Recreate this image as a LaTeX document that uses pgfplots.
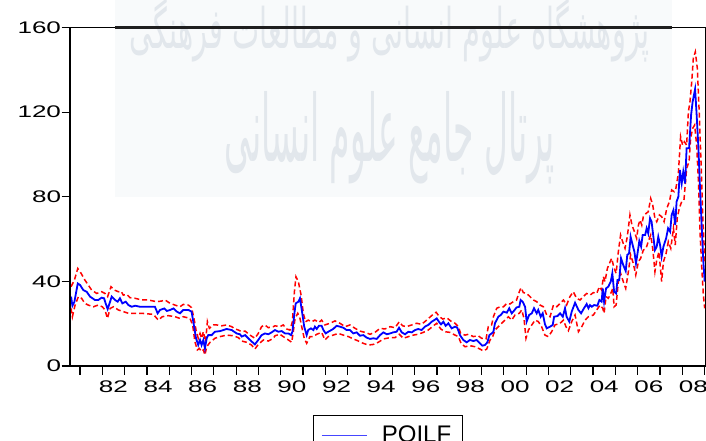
\documentclass[border=0pt]{standalone}
\usepackage{pgfplots}
\pgfplotsset{compat=1.18}
\usepackage{pgfplotstable}
\usepackage{graphicx}
\usepackage{fontspec}
\setmainfont{Liberation Sans}
\newfontfamily\persianfont[Script=Arabic]{DejaVu Sans}
\TeXXeTstate=1
\definecolor{eblue}{RGB}{0,0,255}
\definecolor{legblue}{RGB}{70,70,255}
\definecolor{ered}{RGB}{255,0,0}
\definecolor{wmbg}{RGB}{248,250,251}
\definecolor{wmtext}{RGB}{226,231,236}
\newcommand{\tl}[1]{\scalebox{1.55}[1]{#1}}

\pgfplotstableread{
x y
1980.60 32.8
1980.66 28.5
1980.75 30.4
1980.90 39.0
1981.00 38.3
1981.15 35.9
1981.30 35.1
1981.45 32.8
1981.67 31.2
1981.82 31.2
1981.97 32.3
1982.08 32.0
1982.15 29.6
1982.24 26.9
1982.35 30.4
1982.42 32.8
1982.57 31.2
1982.69 30.4
1982.79 32.0
1982.90 29.6
1983.05 30.4
1983.17 28.8
1983.32 28.0
1983.47 28.5
1983.69 28.0
1983.99 28.0
1984.36 28.0
1984.48 24.9
1984.59 26.5
1984.78 27.2
1984.89 26.0
1985.04 26.5
1985.19 27.2
1985.34 25.7
1985.48 24.9
1985.63 26.5
1985.86 26.5
1986.00 25.7
1986.08 20.9
1986.20 13.1
1986.30 9.9
1986.38 12.3
1986.45 9.9
1986.53 12.3
1986.60 8.3
1986.68 13.1
1986.75 14.6
1986.90 14.6
1987.05 16.2
1987.28 16.5
1987.57 17.5
1987.80 17.0
1988.02 15.4
1988.17 15.0
1988.25 13.9
1988.40 14.6
1988.62 12.3
1988.84 10.2
1988.99 12.3
1989.14 14.6
1989.29 15.4
1989.44 15.0
1989.59 15.9
1989.74 17.0
1989.89 16.2
1990.04 16.5
1990.19 15.4
1990.34 15.4
1990.46 14.6
1990.52 16.2
1990.61 24.9
1990.67 29.6
1990.79 30.4
1990.86 32.0
1990.94 26.5
1991.05 18.6
1991.16 14.6
1991.23 17.0
1991.35 17.8
1991.46 17.0
1991.53 18.6
1991.61 17.5
1991.71 19.0
1991.83 19.0
1991.91 17.0
1992.01 15.4
1992.13 16.2
1992.35 17.5
1992.50 19.0
1992.65 18.6
1992.80 18.1
1992.95 17.0
1993.10 17.0
1993.25 15.4
1993.40 15.9
1993.55 14.3
1993.70 14.6
1993.85 13.4
1994.00 12.8
1994.15 13.1
1994.30 12.8
1994.45 14.6
1994.60 15.9
1994.75 15.0
1994.90 15.4
1995.04 15.9
1995.19 16.2
1995.30 18.1
1995.42 15.9
1995.57 15.0
1995.72 16.2
1995.87 15.9
1996.02 17.0
1996.16 17.5
1996.31 17.0
1996.46 18.6
1996.61 19.4
1996.76 20.9
1996.88 21.7
1996.99 22.5
1997.09 20.9
1997.18 19.7
1997.29 20.9
1997.39 19.0
1997.51 20.2
1997.66 17.8
1997.81 18.6
1997.91 18.1
1998.03 14.6
1998.18 12.3
1998.33 11.2
1998.48 12.3
1998.63 11.8
1998.78 12.3
1998.93 10.7
1999.03 9.6
1999.15 9.9
1999.26 11.2
1999.35 14.6
1999.45 15.4
1999.53 16.2
1999.60 20.2
1999.75 23.3
1999.86 24.1
1999.98 25.7
2000.13 25.2
2000.24 27.3
2000.35 24.9
2000.42 25.7
2000.57 27.7
2000.69 28.0
2000.75 31.2
2000.84 30.4
2000.95 28.0
2001.02 21.0
2001.13 24.1
2001.25 24.9
2001.35 27.3
2001.47 24.9
2001.54 26.5
2001.65 23.3
2001.74 24.9
2001.84 19.8
2001.92 17.8
2002.07 18.6
2002.19 19.4
2002.25 23.3
2002.40 23.6
2002.52 24.9
2002.64 23.3
2002.74 27.3
2002.81 23.3
2002.93 21.0
2003.04 25.7
2003.19 29.9
2003.34 26.5
2003.46 24.9
2003.59 27.3
2003.71 29.3
2003.79 27.3
2003.86 28.8
2003.94 28.0
2004.04 28.8
2004.19 28.5
2004.28 31.2
2004.38 30.4
2004.43 36.7
2004.49 30.4
2004.58 36.7
2004.68 37.5
2004.79 39.9
2004.86 43.8
2004.94 35.1
2005.03 34.3
2005.09 40.6
2005.17 40.6
2005.25 50.9
2005.35 47.7
2005.46 44.9
2005.53 52.5
2005.61 53.2
2005.68 61.1
2005.77 57.2
2005.85 54.0
2005.92 48.5
2006.00 54.0
2006.07 59.1
2006.15 56.4
2006.22 61.9
2006.33 61.9
2006.40 65.1
2006.47 62.7
2006.55 69.8
2006.62 68.2
2006.70 61.1
2006.77 54.8
2006.85 56.4
2006.92 61.1
2007.00 57.2
2007.07 51.7
2007.15 56.4
2007.27 60.3
2007.36 65.1
2007.45 63.5
2007.52 71.4
2007.60 73.7
2007.68 66.6
2007.74 77.7
2007.82 80.0
2007.89 92.6
2007.97 86.3
2008.04 91.8
2008.12 86.3
2008.19 102.9
2008.30 102.9
2008.39 118.6
2008.46 124.9
2008.57 130.9
2008.64 118.6
2008.72 102.9
2008.79 84.0
2008.87 65.1
2008.94 49.3
2009.00 39.9
}\poilfdata

\pgfplotstableread{
x y
1980.60 37.5
1980.75 40.6
1980.90 46.1
1981.05 43.8
1981.22 40.6
1981.37 38.3
1981.52 35.9
1981.75 34.3
1981.97 35.1
1982.12 34.3
1982.24 32.8
1982.39 37.5
1982.54 35.9
1982.72 35.1
1982.84 35.4
1982.94 33.5
1983.09 33.9
1983.24 32.3
1983.47 32.0
1983.77 31.2
1984.06 31.2
1984.44 30.4
1984.66 30.7
1984.81 31.2
1985.04 29.6
1985.26 28.8
1985.48 28.0
1985.63 29.1
1985.86 28.8
1986.00 27.6
1986.11 22.5
1986.20 17.0
1986.30 13.1
1986.38 15.4
1986.45 13.1
1986.53 16.2
1986.63 11.5
1986.71 21.0
1986.80 17.8
1986.98 19.4
1987.13 19.4
1987.35 19.0
1987.57 19.4
1987.80 18.6
1987.95 17.5
1988.10 17.0
1988.25 16.2
1988.40 16.5
1988.62 14.6
1988.84 13.1
1988.99 15.4
1989.14 18.6
1989.29 19.4
1989.44 18.1
1989.67 18.6
1989.74 19.0
1989.96 18.6
1990.11 19.4
1990.26 17.5
1990.41 17.0
1990.52 20.9
1990.61 35.1
1990.68 42.2
1990.79 39.8
1990.91 33.5
1991.01 24.9
1991.11 20.9
1991.23 21.7
1991.38 20.9
1991.53 21.7
1991.71 20.6
1991.83 21.7
1991.98 19.4
1992.21 20.2
1992.43 21.3
1992.65 20.2
1992.88 18.6
1993.10 19.4
1993.33 17.8
1993.55 16.5
1993.77 15.9
1994.00 15.0
1994.22 15.9
1994.45 17.8
1994.67 17.5
1994.90 18.6
1995.12 18.1
1995.31 20.9
1995.46 19.0
1995.64 18.6
1995.87 19.4
1996.09 20.2
1996.31 19.7
1996.54 21.7
1996.76 23.8
1996.96 25.4
1997.11 23.3
1997.26 22.2
1997.44 22.8
1997.66 20.9
1997.81 20.2
1997.96 18.6
1998.06 15.4
1998.26 14.6
1998.41 15.0
1998.63 13.9
1998.85 14.3
1999.00 13.1
1999.20 12.8
1999.30 18.6
1999.45 19.4
1999.53 23.3
1999.68 27.3
1999.83 28.0
1999.98 28.0
2000.13 29.6
2000.27 29.3
2000.42 30.4
2000.57 31.2
2000.69 35.1
2000.77 37.0
2000.87 34.7
2001.02 34.3
2001.17 32.8
2001.32 31.2
2001.47 30.4
2001.62 28.8
2001.77 28.0
2001.92 24.1
2002.07 23.3
2002.22 28.8
2002.37 28.0
2002.52 29.6
2002.67 31.2
2002.81 28.8
2002.96 32.8
2003.11 35.1
2003.26 32.0
2003.41 31.2
2003.56 32.8
2003.71 34.3
2003.86 33.5
2004.01 34.7
2004.16 34.3
2004.28 37.5
2004.38 35.9
2004.46 42.2
2004.53 39.9
2004.64 46.2
2004.73 48.5
2004.83 50.9
2004.94 46.2
2005.03 43.8
2005.13 54.0
2005.23 61.9
2005.32 58.8
2005.43 55.6
2005.53 61.1
2005.65 71.4
2005.74 66.6
2005.85 63.5
2005.95 60.3
2006.03 66.6
2006.10 69.0
2006.18 66.6
2006.25 70.6
2006.37 72.1
2006.47 72.9
2006.58 79.2
2006.67 76.1
2006.77 69.8
2006.85 68.2
2006.97 71.4
2007.07 70.6
2007.18 68.2
2007.30 74.5
2007.42 77.7
2007.52 83.2
2007.63 82.4
2007.71 84.0
2007.82 91.0
2007.92 108.4
2008.01 104.4
2008.09 106.0
2008.19 104.4
2008.27 120.2
2008.34 124.9
2008.42 134.4
2008.49 145.4
2008.58 148.5
2008.67 140.7
2008.76 118.6
2008.84 95.0
2008.91 71.4
2008.98 55.6
2009.00 49.3
}\upperdata

\pgfplotstableread{
x y
1980.60 27.2
1980.66 23.3
1980.78 28.8
1980.93 32.8
1981.07 32.0
1981.22 29.6
1981.37 28.8
1981.60 28.0
1981.82 28.8
1982.00 28.0
1982.12 26.5
1982.23 22.5
1982.35 27.2
1982.50 28.0
1982.72 26.5
1982.94 25.7
1983.17 24.9
1983.39 24.9
1983.77 24.9
1984.29 24.4
1984.51 21.7
1984.69 23.3
1984.96 23.8
1985.26 23.3
1985.48 22.5
1985.63 23.3
1985.93 22.5
1986.05 19.4
1986.15 11.5
1986.26 7.6
1986.35 8.3
1986.45 6.8
1986.53 7.6
1986.60 5.2
1986.68 9.1
1986.83 11.2
1987.05 13.1
1987.28 13.9
1987.57 14.6
1987.87 14.3
1988.10 13.4
1988.25 11.8
1988.47 11.2
1988.69 9.9
1988.84 8.0
1988.99 10.2
1989.22 12.3
1989.44 11.8
1989.67 13.1
1989.74 14.3
1989.96 15.0
1990.11 13.9
1990.34 12.3
1990.49 11.2
1990.56 16.2
1990.64 22.5
1990.76 24.9
1990.86 22.5
1990.97 17.0
1991.05 13.1
1991.16 10.7
1991.31 13.9
1991.46 13.9
1991.61 15.0
1991.83 15.9
1991.98 12.3
1992.13 13.9
1992.35 14.6
1992.58 15.4
1992.80 14.6
1993.03 13.9
1993.25 12.8
1993.48 11.8
1993.70 10.7
1993.92 9.9
1994.15 10.2
1994.37 11.2
1994.60 12.8
1994.90 13.4
1995.12 13.4
1995.31 15.0
1995.49 13.1
1995.72 13.9
1995.94 14.6
1996.16 15.0
1996.39 15.9
1996.61 17.0
1996.84 19.0
1996.99 20.2
1997.17 17.5
1997.36 16.2
1997.58 15.9
1997.81 14.6
1997.96 13.9
1998.08 10.7
1998.26 9.1
1998.48 9.6
1998.71 9.1
1998.93 8.0
1999.08 7.1
1999.23 8.0
1999.38 12.3
1999.50 13.9
1999.60 17.0
1999.75 18.6
1999.90 20.2
2000.05 21.7
2000.20 23.3
2000.35 21.7
2000.50 24.1
2000.69 24.9
2000.80 26.5
2000.90 22.5
2000.99 13.1
2001.10 17.0
2001.25 19.4
2001.40 21.7
2001.54 21.0
2001.69 18.6
2001.84 14.6
2001.99 13.9
2002.14 16.2
2002.29 19.4
2002.52 20.2
2002.67 21.7
2002.78 18.6
2002.89 16.7
2003.04 21.0
2003.19 24.1
2003.34 16.2
2003.49 18.6
2003.64 21.7
2003.79 23.3
2004.01 24.1
2004.16 26.5
2004.31 28.8
2004.43 27.3
2004.49 24.9
2004.58 32.8
2004.68 32.0
2004.79 34.3
2004.88 36.7
2004.94 28.0
2005.03 28.8
2005.13 39.9
2005.23 43.8
2005.35 39.9
2005.46 36.7
2005.58 44.6
2005.68 52.5
2005.80 48.5
2005.91 43.0
2006.03 49.3
2006.13 50.9
2006.25 54.8
2006.37 55.6
2006.47 58.8
2006.58 61.9
2006.67 55.6
2006.77 44.6
2006.85 50.1
2006.95 54.0
2007.07 39.9
2007.15 49.3
2007.27 53.2
2007.37 58.8
2007.48 55.6
2007.60 65.1
2007.68 57.2
2007.77 69.8
2007.86 74.5
2007.97 77.7
2008.07 78.4
2008.19 93.4
2008.30 96.6
2008.37 107.6
2008.46 112.3
2008.55 113.9
2008.64 104.4
2008.72 87.1
2008.79 63.5
2008.87 46.2
2008.94 33.6
2009.00 27.3
}\lowerdata

\begin{document}
\begin{tikzpicture}
\fill[wmbg] (45bp,169bp) rectangle (602bp,366bp);
\node[wmtext, inner sep=0pt] at (320bp,336bp) {\resizebox{520bp}{50bp}{\persianfont\beginR پژوهشگاه علوم انسانی و مطالعات فرهنگی\endR}};
\node[wmtext, inner sep=0pt] at (320bp,228bp) {\resizebox{330bp}{70bp}{\persianfont\beginR پرتال جامع علوم انسانی\endR}};
\begin{axis}[
  at={(0,0)}, anchor=south west,
  scale only axis, width=635bp, height=338.5bp,
  xmin=1980.552, xmax=2009.014, ymin=0, ymax=160,
  axis line style={line width=1bp, black},
  tick pos=left, tick align=outside, major tick length=8.5bp,
  every tick/.style={black, line width=1.2bp},
  xtick={1981,...,2009},
  xticklabels={{},\tl{82},{},\tl{84},{},\tl{86},{},\tl{88},{},\tl{90},{},\tl{92},{},\tl{94},{},\tl{96},{},\tl{98},{},\tl{00},{},\tl{02},{},\tl{04},{},\tl{06},{},\tl{08},{}},
  xticklabel style={xshift=11.15bp, yshift=-3bp},
  ytick={0,40,80,120,160},
  yticklabels={\tl{0},\tl{40},\tl{80},\tl{120},\tl{160}},
  yticklabel style={xshift=3bp},
  tick label style={font=\fontsize{16.8bp}{20bp}\selectfont, text=black},
  legend style={at={(0.501,0)}, anchor=north, yshift=-49bp, draw=black, line width=0.8bp, fill=white,
    inner xsep=5bp, inner ysep=5bp, column sep=0pt,
    nodes={inner xsep=6.2bp, inner ysep=5.7bp, font=\fontsize{24bp}{28bp}\selectfont}},
  legend image code/.code={\draw[#1, draw=legblue, line width=1bp] (2bp,0bp) -- (47.6bp,0bp); \path (0bp,-7.2bp) (55bp,0bp);},
]
\addplot[ered, line width=1.5bp, dash pattern=on 5bp off 3bp, forget plot] table[x=x,y=y] {\upperdata};
\addplot[ered, line width=1.5bp, dash pattern=on 5bp off 3bp, forget plot] table[x=x,y=y] {\lowerdata};
\addplot[eblue, line width=1.8bp] table[x=x,y=y] {\poilfdata};
\addlegendentry{POILF\hspace{4bp}}
\end{axis}
\draw[line width=3bp, black!88] (45bp,338.5bp) -- (602bp,338.5bp);
\draw[line width=2bp] (0bp,338.5bp) -- (0bp,0bp) -- (635bp,0bp);
\pgfresetboundingbox
\useasboundingbox (-70bp,-75bp) rectangle (636bp,366bp);
\end{tikzpicture}
\end{document}
